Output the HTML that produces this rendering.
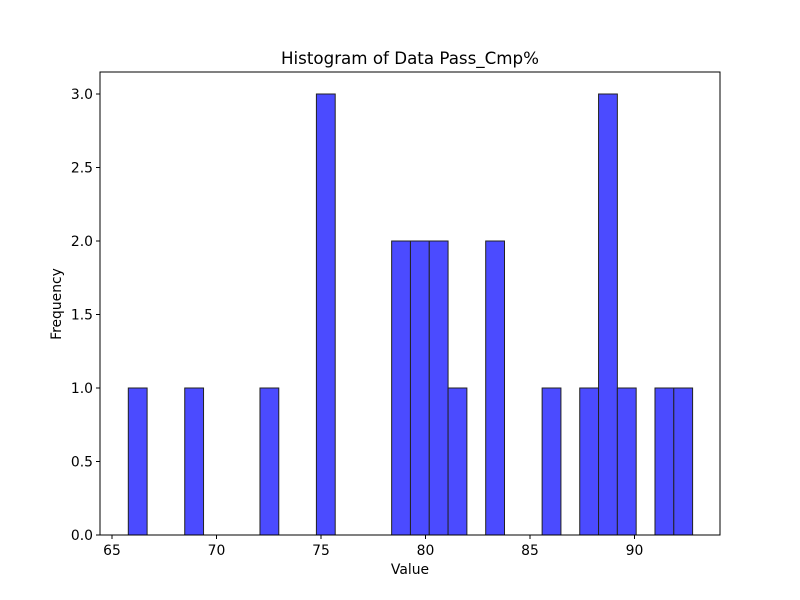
<!DOCTYPE html>
<html><head><meta charset="utf-8"><style>body{margin:0;background:#fff}svg{display:block;font-family:"DejaVu Sans","Liberation Sans",sans-serif}</style></head>
<body>
<svg id="c" width="800" height="600"></svg>
<script>
const binStart = 65.78;
const binWidth = 0.9;
const counts = [1,0,0,1,0,0,0,1,0,0,3,0,0,0,2,2,2,1,0,2,0,0,1,0,1,3,1,0,1,1];
const xTicks = [65,70,75,80,85,90];
const yTicks = [0,0.5,1.0,1.5,2.0,2.5,3.0];
const L=100,R=720,T=72,B=535;
const xs=v=>112+(v-65)*20.9;
const ys=v=>B-v*147;
const NS='http://www.w3.org/2000/svg';
const svg=document.getElementById('c');
function mk(t,a,txt){const e=document.createElementNS(NS,t);for(const k in a)e.setAttribute(k,a[k]);if(txt!==undefined)e.textContent=txt;svg.appendChild(e);return e;}
counts.forEach((c,i)=>{if(!c)return;const x0=xs(binStart+i*binWidth),x1=xs(binStart+(i+1)*binWidth);
const r=mk('rect',{x:x0,y:ys(c),width:x1-x0,height:B-ys(c),fill:'#4b4bff',stroke:'#222','stroke-width':1});

});
const fr=mk('rect',{x:L,y:T,width:R-L,height:B-T,fill:'none',stroke:'#000','stroke-width':1});


xTicks.forEach(v=>{const x=xs(v);mk('line',{x1:x,x2:x,y1:B,y2:B+4,stroke:'#000'});
const t=mk('text',{x:x,y:B+20,'text-anchor':'middle','font-size':13.9},v);

});
yTicks.forEach(v=>{const y=ys(v);mk('line',{x1:L-4,x2:L,y1:y,y2:y,stroke:'#000'});
const t=mk('text',{x:L-7,y:y+5,'text-anchor':'end','font-size':13.9},v.toFixed(1));

});
let t=mk('text',{x:410,y:64,'text-anchor':'middle','font-size':16.7},'Histogram of Data Pass_Cmp%');


t=mk('text',{x:410,y:574,'text-anchor':'middle','font-size':13.9},'Value');


t=mk('text',{x:61,y:304,'text-anchor':'middle','font-size':13.9,transform:'rotate(-90 61 304)'},'Frequency');


</script>
</body></html>
